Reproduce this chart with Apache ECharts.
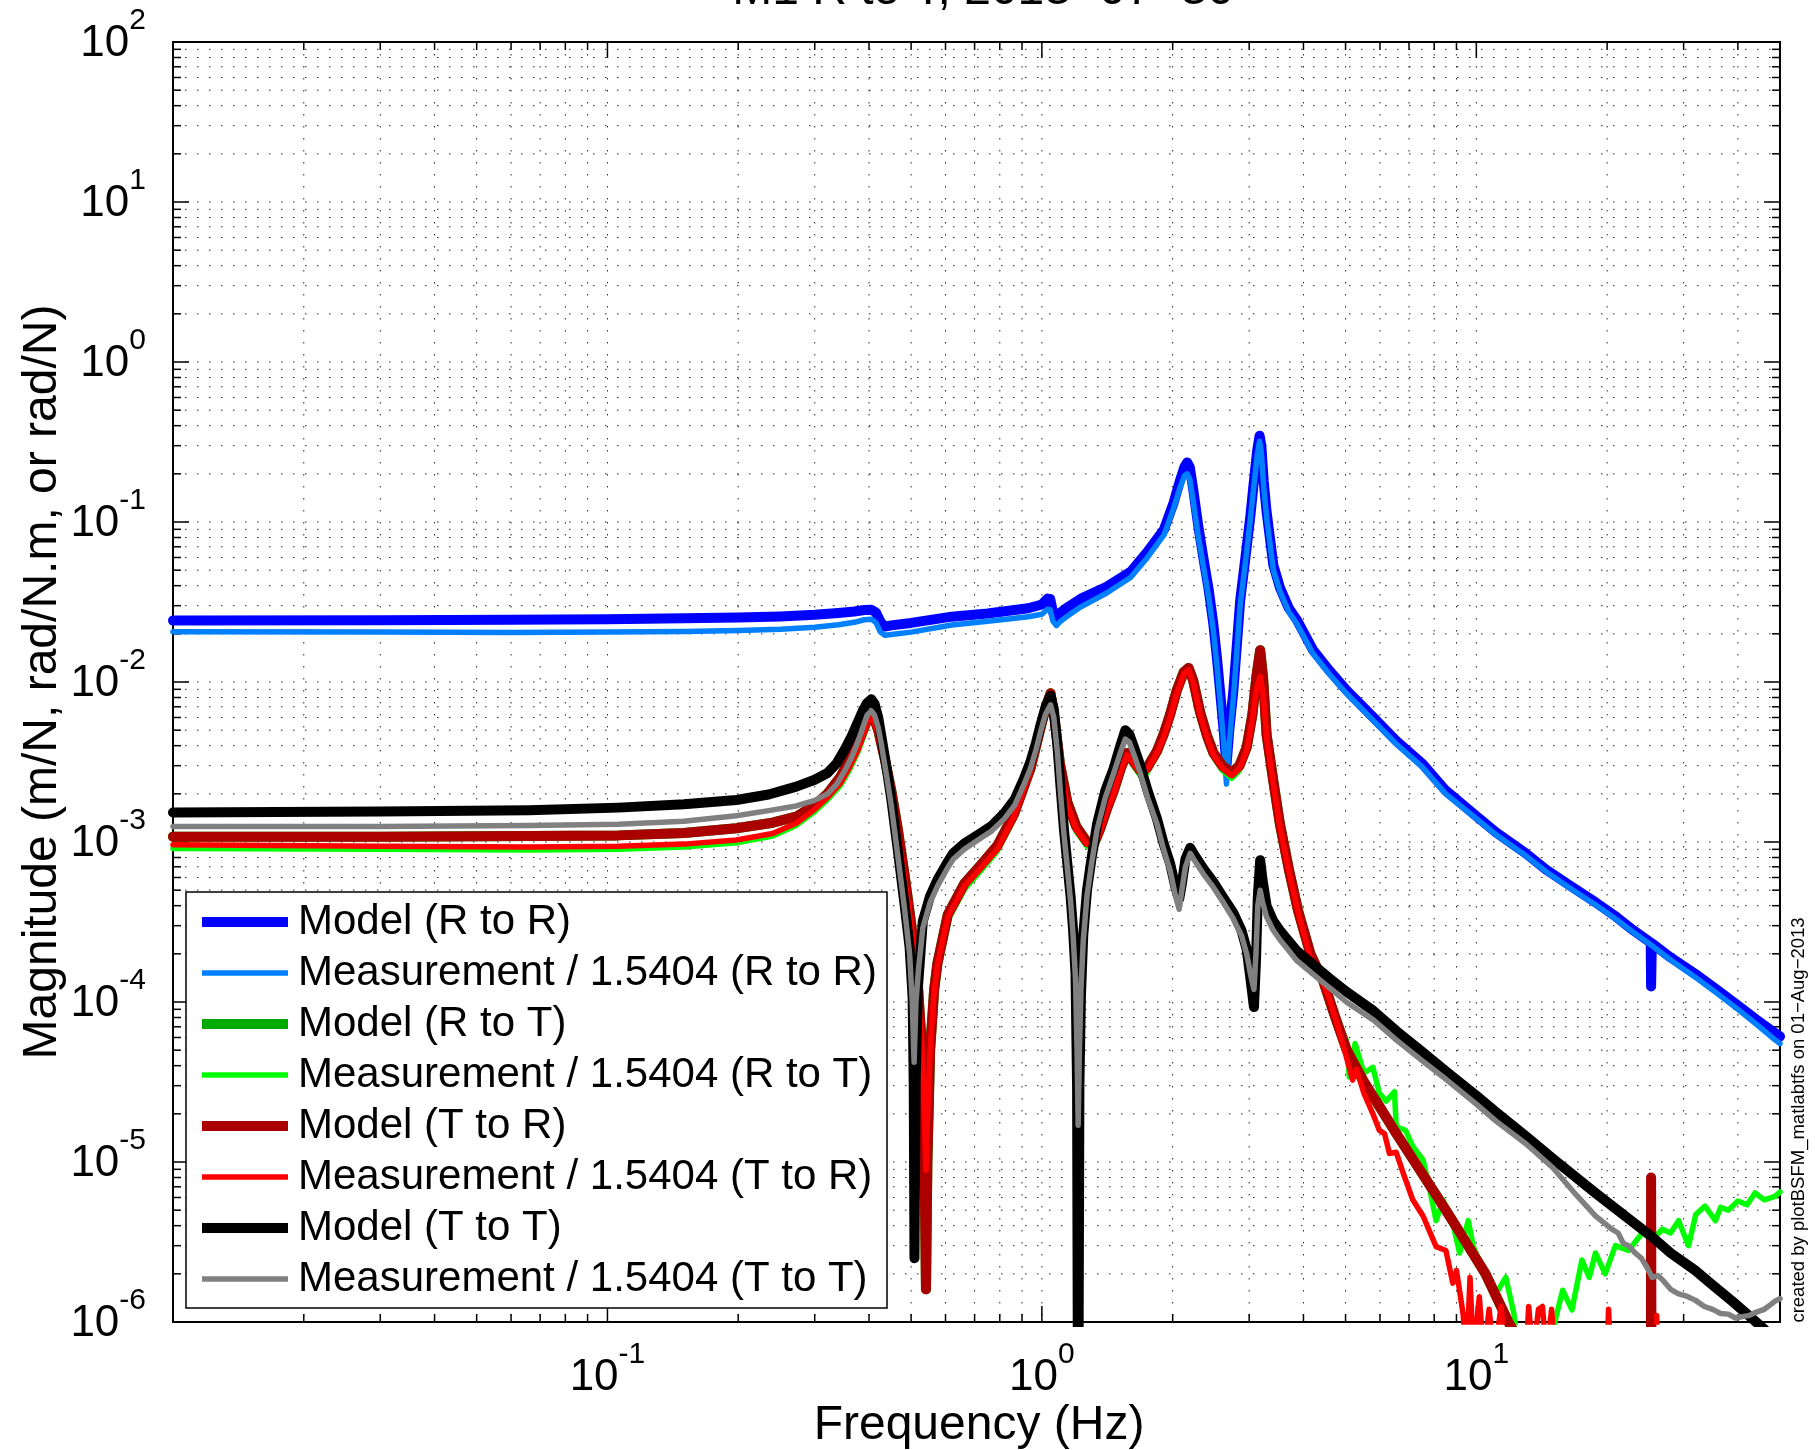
<!DOCTYPE html>
<html>
<head>
<meta charset="utf-8">
<script src="https://cdn.jsdelivr.net/npm/echarts@6/dist/echarts.min.js"></script>
<style>
html,body{margin:0;padding:0;background:#fff;}
#chart{width:1815px;height:1450px;}
</style>
</head>
<body>
<div id="chart"></div>
<script>
// ---------------- data (frequency Hz, magnitude) ----------------
const modelRR = [[0.01,0.0242],[0.03,0.0243],[0.06,0.0245],[0.1,0.0247],[0.15,0.025],[0.2,0.0253],[0.25,0.0257],[0.3,0.0263],[0.34,0.027],[0.37,0.0276],[0.39,0.0282],[0.405,0.0283],[0.415,0.0272],[0.425,0.0238],[0.435,0.0222],[0.45,0.0226],[0.5,0.0234],[0.62,0.0256],[0.75,0.0268],[0.93,0.0289],[1.0,0.0305],[1.03,0.0332],[1.045,0.033],[1.06,0.0275],[1.075,0.0248],[1.1,0.027],[1.15,0.0295],[1.23,0.0332],[1.41,0.0394],[1.6,0.0488],[1.75,0.0651],[1.91,0.0898],[2.01,0.132],[2.08,0.182],[2.13,0.222],[2.16,0.2355],[2.19,0.22],[2.23,0.16],[2.29,0.095],[2.35,0.0611],[2.42,0.038],[2.48,0.0233],[2.53,0.014],[2.57,0.0089],[2.62,0.005],[2.66,0.003],[2.7,0.005],[2.76,0.0089],[2.81,0.017],[2.86,0.0321],[2.96,0.0695],[3.02,0.11],[3.07,0.171],[3.13,0.28],[3.17,0.346],[3.2,0.3],[3.24,0.18],[3.29,0.116],[3.41,0.0537],[3.53,0.039],[3.7,0.029],[3.86,0.0245],[4.21,0.0158],[4.6,0.0117],[5.02,0.0089],[5.6,0.0066],[6.54,0.0043],[7.5,0.0031],[8.5,0.0021],[10,0.00145],[11.1,0.00115],[13,0.00085],[14.5,0.00067],[16.5,0.00053],[18.8,0.00042],[21,0.00034],[23,0.00028],[25.2,0.000235],[25.25,0.000125],[25.3,0.000125],[25.35,0.000233],[28,0.00019],[31.9,0.00015],[36,0.000118],[40,0.000095],[44,0.000078],[48.7,0.000064],[50,0.000061]];

const measRR = [[0.01,0.0206],[0.03,0.0205],[0.06,0.0204],[0.1,0.0205],[0.15,0.0207],[0.2,0.021],[0.25,0.0214],[0.3,0.022],[0.34,0.0228],[0.37,0.0236],[0.39,0.0245],[0.405,0.0247],[0.415,0.0235],[0.425,0.0205],[0.435,0.0196],[0.45,0.0198],[0.5,0.0205],[0.62,0.0227],[0.75,0.024],[0.93,0.0256],[1.0,0.0265],[1.03,0.0285],[1.045,0.0283],[1.06,0.024],[1.08,0.0225],[1.1,0.0238],[1.15,0.026],[1.23,0.0295],[1.41,0.036],[1.6,0.045],[1.75,0.06],[1.91,0.083],[2.01,0.122],[2.08,0.165],[2.13,0.195],[2.16,0.2],[2.19,0.185],[2.23,0.135],[2.29,0.082],[2.35,0.054],[2.42,0.034],[2.48,0.021],[2.53,0.0125],[2.57,0.0078],[2.62,0.0042],[2.66,0.0023],[2.7,0.0042],[2.76,0.008],[2.81,0.0155],[2.86,0.03],[2.96,0.065],[3.02,0.105],[3.07,0.16],[3.13,0.26],[3.17,0.32],[3.2,0.27],[3.24,0.165],[3.29,0.107],[3.41,0.05],[3.53,0.037],[3.7,0.0275],[3.86,0.0232],[4.21,0.015],[4.6,0.0111],[5.02,0.0085],[5.6,0.0063],[6.54,0.0041],[7.5,0.00295],[8.5,0.002],[10,0.0014],[11.1,0.00111],[13,0.00082],[14.5,0.00065],[16.5,0.00051],[18.8,0.000405],[21,0.000328],[23,0.000272],[25.2,0.000228],[28,0.000183],[31.9,0.000143],[36,0.000112],[40,0.00009],[44,0.000073],[48.7,0.000058],[50,0.000055]];

const modelRT = [[0.01,0.00108],[0.03,0.00108],[0.066,0.00109],[0.106,0.0011],[0.15,0.00114],[0.198,0.00122],[0.24,0.00132],[0.272,0.00144],[0.3,0.0017],[0.321,0.002],[0.344,0.00256],[0.36,0.0032],[0.378,0.0042],[0.39,0.0052],[0.396,0.0058],[0.402,0.0063],[0.41,0.006],[0.42,0.005],[0.435,0.0033],[0.45,0.0021],[0.466,0.0012],[0.483,0.00062],[0.5,0.00031],[0.518,0.00013],[0.53,0.00005],[0.537,0.00001],[0.541,0.0000016],[0.545,0.00001],[0.553,0.00005],[0.565,0.00012],[0.575,0.000175],[0.607,0.00035],[0.663,0.00055],[0.724,0.00072],[0.79,0.00095],[0.863,0.0015],[0.942,0.0029],[0.993,0.0052],[1.025,0.0072],[1.047,0.0085],[1.07,0.0058],[1.1,0.0031],[1.144,0.00178],[1.2,0.00125],[1.27,0.001],[1.317,0.00097],[1.36,0.0012],[1.41,0.0016],[1.464,0.0021],[1.52,0.0029],[1.57,0.0036],[1.61,0.0033],[1.684,0.0028],[1.745,0.0029],[1.84,0.0037],[1.906,0.0047],[1.974,0.0063],[2.045,0.0089],[2.12,0.0115],[2.176,0.01225],[2.23,0.0102],[2.312,0.0065],[2.4,0.0046],[2.483,0.0036],[2.6,0.003],[2.735,0.0027],[2.85,0.003],[2.96,0.0039],[3.05,0.0062],[3.12,0.011],[3.18,0.0158],[3.23,0.0105],[3.29,0.0047],[3.41,0.0024],[3.53,0.0013],[3.7,0.00068],[3.89,0.00037],[4.15,0.0002],[4.44,0.000136],[4.7,0.000085],[5.02,0.000051],[5.5,0.000032],[6,0.000022],[6.54,0.0000151],[7.5,0.0000085],[8.51,0.000005],[9.5,0.0000031],[10.5,0.000002],[11.85,0.000001],[13.5,0.00000055],[16,0.00000025],[20,0.0000001],[30,0.00000003],[50,0.00000001]];

const measRT = [[0.01,0.00091],[0.03,0.0009],[0.066,0.00089],[0.106,0.0009],[0.15,0.00093],[0.198,0.00099],[0.24,0.00109],[0.272,0.00127],[0.3,0.00155],[0.321,0.00184],[0.344,0.00226],[0.36,0.0028],[0.378,0.0037],[0.39,0.0047],[0.396,0.0053],[0.402,0.0058],[0.41,0.0055],[0.42,0.0046],[0.435,0.003],[0.45,0.0019],[0.466,0.0011],[0.483,0.00058],[0.5,0.00029],[0.518,0.00012],[0.53,0.00005],[0.538,0.000018],[0.542,0.000012],[0.547,0.000018],[0.555,0.00005],[0.567,0.00011],[0.578,0.000165],[0.61,0.00033],[0.665,0.00051],[0.726,0.00067],[0.79,0.00088],[0.863,0.0014],[0.942,0.0027],[0.993,0.0049],[1.025,0.0066],[1.047,0.0076],[1.07,0.0054],[1.1,0.0029],[1.144,0.00165],[1.2,0.00116],[1.27,0.00094],[1.317,0.0009],[1.36,0.00111],[1.41,0.0015],[1.464,0.00195],[1.52,0.0027],[1.57,0.0034],[1.61,0.0031],[1.684,0.0026],[1.745,0.0027],[1.84,0.0035],[1.906,0.0044],[1.974,0.0059],[2.045,0.0083],[2.12,0.011],[2.176,0.0117],[2.23,0.0097],[2.312,0.0062],[2.4,0.0044],[2.483,0.0034],[2.6,0.0028],[2.735,0.0025],[2.85,0.0028],[2.96,0.0036],[3.05,0.0057],[3.12,0.009],[3.18,0.0106],[3.23,0.0083],[3.29,0.0044],[3.41,0.0022],[3.53,0.0012],[3.7,0.00064],[3.89,0.00035],[4.15,0.000185],[4.44,0.000128],[4.8,0.000075],[5.02,0.000058],[5.1,0.000034],[5.26,0.000055],[5.51,0.000036],[5.78,0.000039],[5.98,0.000027],[6.2,0.000024],[6.48,0.0000275],[6.54,0.0000166],[6.87,0.0000158],[7.14,0.0000125],[7.54,0.0000103],[7.79,0.000007],[8.08,0.0000043],[8.38,0.0000058],[8.83,0.0000041],[9.15,0.0000027],[9.58,0.0000043],[9.84,0.00000296],[10.3,0.0000022],[11.09,0.0000015],[11.69,0.0000019],[12.2,0.00000113],[12.7,0.0000005],[13.6,0.0000007],[14.5,0.0000005],[15.2,0.00000103],[15.8,0.00000158],[16.6,0.00000119],[17.5,0.00000244],[18.2,0.0000019],[18.8,0.0000027],[19.8,0.000002],[20.9,0.000003],[22.4,0.0000028],[24.1,0.0000036],[25.5,0.0000033],[26.8,0.0000038],[28,0.0000036],[29.2,0.0000043],[30.8,0.000003],[32,0.0000047],[33.6,0.0000053],[35.5,0.0000043],[36.5,0.0000052],[38,0.000005],[40,0.0000057],[42,0.0000054],[43.8,0.0000064],[46,0.0000058],[48.7,0.0000061],[50,0.0000065]];

const modelTR = [[0.01,0.00108],[0.03,0.00108],[0.066,0.00109],[0.106,0.0011],[0.15,0.00114],[0.198,0.00122],[0.24,0.00132],[0.272,0.00144],[0.3,0.0017],[0.321,0.002],[0.344,0.00256],[0.36,0.0032],[0.378,0.0042],[0.39,0.0052],[0.396,0.0058],[0.402,0.0063],[0.41,0.006],[0.42,0.005],[0.435,0.0033],[0.45,0.0021],[0.466,0.0012],[0.483,0.00062],[0.5,0.00031],[0.518,0.00013],[0.53,0.00005],[0.537,0.00001],[0.541,0.0000016],[0.545,0.00001],[0.553,0.00005],[0.565,0.00012],[0.575,0.000175],[0.607,0.00035],[0.663,0.00055],[0.724,0.00072],[0.79,0.00095],[0.863,0.0015],[0.942,0.0029],[0.993,0.0052],[1.025,0.0072],[1.047,0.0085],[1.07,0.0058],[1.1,0.0031],[1.144,0.00178],[1.2,0.00125],[1.27,0.001],[1.317,0.00097],[1.36,0.0012],[1.41,0.0016],[1.464,0.0021],[1.52,0.0029],[1.57,0.0036],[1.61,0.0033],[1.684,0.0028],[1.745,0.0029],[1.84,0.0037],[1.906,0.0047],[1.974,0.0063],[2.045,0.0089],[2.12,0.0115],[2.176,0.01225],[2.23,0.0102],[2.312,0.0065],[2.4,0.0046],[2.483,0.0036],[2.6,0.003],[2.735,0.0027],[2.85,0.003],[2.96,0.0039],[3.05,0.0062],[3.12,0.011],[3.18,0.0158],[3.23,0.0105],[3.29,0.0047],[3.41,0.0024],[3.53,0.0013],[3.7,0.00068],[3.89,0.00037],[4.15,0.0002],[4.44,0.000136],[4.7,0.000085],[5.02,0.000051],[5.5,0.000032],[6,0.000022],[6.54,0.0000151],[7.5,0.0000085],[8.51,0.000005],[9.5,0.0000031],[10.5,0.000002],[11.85,0.000001],[13.5,0.00000055],[16,0.00000025],[20,0.0000001],[25.2,0.00000005],[25.25,0.000008],[25.3,0.000008],[25.35,0.00000005],[30,0.00000003],[50,0.00000001]];

const measTR = [[0.01,0.00096],[0.03,0.00094],[0.066,0.00093],[0.106,0.00094],[0.15,0.00097],[0.198,0.00103],[0.24,0.00113],[0.272,0.00131],[0.3,0.0016],[0.321,0.0019],[0.344,0.00233],[0.36,0.0029],[0.378,0.0038],[0.39,0.0049],[0.396,0.0055],[0.402,0.006],[0.41,0.0057],[0.42,0.0047],[0.435,0.0031],[0.45,0.002],[0.466,0.00115],[0.483,0.0006],[0.5,0.0003],[0.518,0.000125],[0.53,0.00005],[0.537,0.000018],[0.541,0.0000089],[0.545,0.000018],[0.553,0.00005],[0.565,0.000115],[0.575,0.00017],[0.607,0.00034],[0.663,0.00053],[0.724,0.00069],[0.79,0.0009],[0.863,0.00145],[0.942,0.0028],[0.993,0.005],[1.025,0.0068],[1.047,0.0078],[1.07,0.0056],[1.1,0.003],[1.144,0.0017],[1.2,0.0012],[1.27,0.00097],[1.317,0.00094],[1.36,0.00115],[1.41,0.00155],[1.464,0.002],[1.52,0.0028],[1.57,0.0035],[1.61,0.0032],[1.684,0.0027],[1.745,0.0028],[1.84,0.0036],[1.906,0.0045],[1.974,0.006],[2.045,0.0085],[2.12,0.0112],[2.176,0.0119],[2.23,0.0099],[2.312,0.0063],[2.4,0.0045],[2.483,0.0035],[2.6,0.0029],[2.735,0.0026],[2.85,0.0029],[2.96,0.0037],[3.05,0.0058],[3.12,0.0092],[3.18,0.0108],[3.23,0.0085],[3.29,0.0045],[3.41,0.0023],[3.53,0.00125],[3.7,0.00066],[3.89,0.00036],[4.15,0.00019],[4.44,0.00013],[4.6,0.000103],[4.8,0.00007],[5.02,0.0000455],[5.19,0.0000325],[5.3,0.000038],[5.51,0.0000269],[5.78,0.00002],[5.98,0.0000158],[6.15,0.000015],[6.31,0.0000113],[6.54,0.0000115],[6.79,0.0000085],[7.14,0.0000058],[7.54,0.0000046],[8.08,0.00000296],[8.51,0.0000028],[8.83,0.00000175],[9.0,0.0000021],[9.32,0.00000113],[9.5,0.0000006],[9.67,0.0000019],[9.85,0.0000006],[10.16,0.00000144],[10.4,0.0000006],[10.7,0.0000012],[11.0,0.0000006],[11.4,0.00000125],[11.7,0.0000006],[13.0,0.0000006],[13.2,0.00000125],[13.5,0.0000006],[13.9,0.0000012],[14.2,0.00000125],[14.5,0.0000006],[14.9,0.0000012],[15.2,0.0000006],[20.0,0.0000006],[20.15,0.0000012],[20.4,0.0000006],[25.9,0.0000006],[26.0,0.0000011],[26.2,0.0000006],[28,0.0000006],[50,0.0000005]];

const modelTT = [[0.01,0.00153],[0.03,0.00155],[0.066,0.00158],[0.106,0.00164],[0.15,0.00172],[0.198,0.00183],[0.235,0.00198],[0.272,0.00222],[0.3,0.00245],[0.321,0.0027],[0.337,0.0031],[0.352,0.0038],[0.365,0.0046],[0.378,0.0057],[0.388,0.0067],[0.396,0.0074],[0.405,0.0078],[0.412,0.0073],[0.42,0.006],[0.427,0.0046],[0.44,0.0028],[0.45,0.00186],[0.466,0.00089],[0.483,0.000406],[0.496,0.00022],[0.504,0.000107],[0.507,0.00003],[0.509,0.0000025],[0.512,0.00003],[0.518,0.00012],[0.532,0.00032],[0.553,0.00046],[0.575,0.00058],[0.607,0.00075],[0.625,0.00085],[0.663,0.00098],[0.724,0.00114],[0.766,0.00126],[0.82,0.00152],[0.866,0.00185],[0.91,0.0025],[0.942,0.0032],[0.97,0.0042],[0.993,0.0054],[1.02,0.007],[1.047,0.0082],[1.065,0.0068],[1.085,0.0041],[1.104,0.0022],[1.124,0.0012],[1.145,0.00072],[1.164,0.00046],[1.18,0.00028],[1.195,0.00015],[1.205,0.00003],[1.212,0.0000001],[1.22,0.00003],[1.23,0.00011],[1.245,0.00026],[1.27,0.0005],[1.3,0.00078],[1.34,0.0013],[1.4,0.0021],[1.464,0.0029],[1.52,0.0041],[1.556,0.005],[1.59,0.0047],[1.63,0.0039],[1.684,0.003],[1.75,0.0021],[1.84,0.0014],[1.906,0.00098],[1.974,0.00073],[2.03,0.00052],[2.07,0.00044],[2.1,0.00055],[2.14,0.00078],[2.194,0.00092],[2.25,0.00082],[2.354,0.00068],[2.483,0.00056],[2.6,0.00046],[2.76,0.00036],[2.88,0.00028],[2.96,0.000214],[3.02,0.00014],[3.077,0.000093],[3.11,0.00018],[3.14,0.00045],[3.18,0.00077],[3.22,0.00058],[3.29,0.0004],[3.41,0.00032],[3.53,0.00028],[3.7,0.00024],[3.855,0.00021],[4.2,0.000172],[4.6,0.00014],[5.02,0.000116],[5.8,0.000088],[6.54,0.000066],[7.5,0.000049],[8.5,0.000037],[10,0.000026],[11.1,0.0000205],[13,0.0000145],[15,0.0000105],[18.8,0.0000064],[22,0.0000046],[25.4,0.0000034],[28,0.0000027],[31.9,0.0000021],[35,0.0000017],[38.8,0.00000135],[42,0.00000112],[46,0.0000009],[50,0.00000073]];

const measTT = [[0.01,0.00125],[0.03,0.00125],[0.066,0.00127],[0.106,0.00129],[0.15,0.00135],[0.198,0.00146],[0.235,0.00157],[0.272,0.00168],[0.3,0.00182],[0.321,0.002],[0.337,0.0023],[0.352,0.0028],[0.365,0.0034],[0.378,0.0043],[0.388,0.0053],[0.396,0.0062],[0.405,0.0066],[0.412,0.0062],[0.42,0.0052],[0.427,0.0041],[0.44,0.0025],[0.45,0.0017],[0.466,0.00082],[0.483,0.00038],[0.496,0.0002],[0.503,0.0001],[0.508,0.000042],[0.513,0.0001],[0.52,0.00016],[0.532,0.00029],[0.553,0.00042],[0.575,0.00053],[0.607,0.00069],[0.625,0.00078],[0.663,0.0009],[0.724,0.00106],[0.766,0.00117],[0.82,0.0014],[0.866,0.0017],[0.91,0.0023],[0.942,0.0029],[0.97,0.0038],[0.993,0.0049],[1.02,0.0063],[1.047,0.0072],[1.065,0.006],[1.085,0.0037],[1.104,0.002],[1.124,0.00112],[1.145,0.00068],[1.164,0.00043],[1.18,0.00026],[1.195,0.00014],[1.205,0.00005],[1.212,0.000017],[1.22,0.00005],[1.23,0.00012],[1.245,0.00024],[1.27,0.00046],[1.3,0.00072],[1.34,0.0012],[1.4,0.0019],[1.464,0.0027],[1.52,0.0037],[1.556,0.0044],[1.59,0.0042],[1.63,0.0035],[1.684,0.0027],[1.75,0.0019],[1.84,0.0013],[1.906,0.0009],[1.974,0.00066],[2.03,0.00046],[2.07,0.00038],[2.1,0.0005],[2.14,0.0007],[2.194,0.00085],[2.25,0.00076],[2.354,0.00063],[2.483,0.00052],[2.6,0.00043],[2.76,0.00033],[2.88,0.00026],[2.96,0.0002],[3.02,0.00015],[3.077,0.00012],[3.11,0.0002],[3.14,0.0004],[3.18,0.0005],[3.22,0.00042],[3.29,0.00034],[3.41,0.00028],[3.53,0.000245],[3.7,0.00021],[3.855,0.000182],[4.2,0.00015],[4.6,0.000122],[5.02,0.0001],[5.8,0.000077],[6.54,0.000058],[7.5,0.000043],[8.5,0.000033],[10,0.000023],[11.1,0.000018],[13,0.000013],[15,0.0000092],[17,0.0000062],[18.8,0.0000046],[20.5,0.0000038],[21.2,0.0000036],[21.8,0.0000031],[22.4,0.000003],[23.2,0.0000027],[24,0.0000025],[24.7,0.0000022],[25.4,0.0000019],[26.2,0.00000195],[27,0.0000018],[28,0.0000016],[29.2,0.0000015],[30.5,0.00000145],[31.9,0.00000137],[33.5,0.00000125],[35,0.0000012],[36.5,0.00000113],[38,0.00000112],[39.5,0.00000106],[41,0.00000108],[42.5,0.0000011],[44,0.00000115],[46,0.0000012],[47.5,0.00000128],[48.7,0.00000135],[50,0.0000014]];

// axis / grid tick values
const xMajorTicks = [0.1, 1, 10];
const xMinorTicks = [0.02,0.03,0.04,0.05,0.06,0.07,0.08,0.09,0.2,0.3,0.4,0.5,0.6,0.7,0.8,0.9,2,3,4,5,6,7,8,9,20,30,40];
const xLabelExps = [-1, 0, 1];
const yMajorTicks = [1e-5,1e-4,1e-3,1e-2,1e-1,1,10];
const yDecades = [1e-6,1e-5,1e-4,1e-3,1e-2,1e-1,1,10];
const yMinorMult = [2,3,4,5,6,7,8,9];

const seriesNames = ['Model (R to R)','Measurement / 1.5404 (R to R)','Model (R to T)','Measurement / 1.5404 (R to T)','Model (T to R)','Measurement / 1.5404 (T to R)','Model (T to T)','Measurement / 1.5404 (T to T)'];
const seriesColors = ['#0000ff','#0080ff','#00aa00','#00ff00','#aa0000','#ff0000','#000000','#808080'];
const titleText = 'M1 R to T, 2013\u221207\u221230';
const xTitle = 'Frequency (Hz)';
const yTitle = 'Magnitude (m/N, rad/N.m, or rad/N)';
const stampText = 'created by plotBSFM_matlabtfs on 01\u2212Aug\u22122013';

// ---------------- chart ----------------
const FONT = '"Liberation Sans", Arial, Helvetica, sans-serif';
const XMIN = 0.01, XMAX = 50, YMIN = 1e-6, YMAX = 100;

const gridItems = [];
xMajorTicks.forEach(v => gridItems.push([v, 1, 0, 1]));
xMinorTicks.forEach(v => gridItems.push([v, 1, 0, 0]));
yMajorTicks.forEach(v => gridItems.push([1, v, 1, 1]));
yDecades.forEach(d => yMinorMult.forEach(m => gridItems.push([1, d * m, 1, 0])));

function expOf(v) {
  const l = Math.log10(v);
  const e = Math.round(l);
  return Math.abs(l - e) > 1e-6 ? null : e;
}
function yLabel(v) {
  const e = expOf(v);
  return e === null ? '' : '{b|10}{e|' + e + '}';
}
function xLabel(v) {
  const e = expOf(v);
  return (e === null || xLabelExps.indexOf(e) < 0) ? '' : '{b|10}{e|' + e + '}';
}
const rich = {
  b: {fontSize: 44, fontFamily: FONT, color: '#000', padding: [16, 0, 12, 0], verticalAlign: 'bottom'},
  e: {fontSize: 30, fontFamily: FONT, color: '#000', lineHeight: 30, verticalAlign: 'top'}
};

function line(i, data, width) {
  return {
    name: seriesNames[i], type: 'line', data: data, symbol: 'none', showSymbol: false,
    lineStyle: {color: seriesColors[i], width: width, cap: 'round', join: 'round'},
    itemStyle: {color: seriesColors[i]}, clip: true, animation: false, z: 3
  };
}

const ROW = 51, LEG_TOP = 896.5, LEG_LEFT = 202;
const legendText = {fontSize: 42, color: '#000', fontFamily: FONT, lineHeight: ROW, padding: [0, 0, 0, 5]};

const chart = echarts.init(document.getElementById('chart'), null, {renderer: 'canvas'});
const option = {
  animation: false,
  backgroundColor: '#fff',
  textStyle: {fontFamily: FONT},
  grid: {left: 173, top: 42, width: 1607, height: 1280, containLabel: false, outerBoundsMode: 'none',
         show: true, borderColor: '#000', borderWidth: 2, backgroundColor: '#fff'},
  xAxis: {
    type: 'log', logBase: 10, min: XMIN, max: XMAX,
    axisLine: {show: false}, axisTick: {show: false}, splitLine: {show: false},
    axisLabel: {formatter: xLabel, margin: 18, rich: rich, showMinLabel: true, showMaxLabel: true}
  },
  yAxis: {
    type: 'log', logBase: 10, min: YMIN, max: YMAX,
    axisLine: {show: false}, axisTick: {show: false}, splitLine: {show: false},
    axisLabel: {formatter: yLabel, margin: 27, rich: rich},
    name: yTitle, nameLocation: 'middle', nameGap: 106, nameRotate: 90, nameMoveOverlap: false,
    nameTextStyle: {fontSize: 48, color: '#000', fontFamily: FONT}
  },
  legend: [
    {
      data: [0, 2, 4, 6].map(i => ({name: seriesNames[i], icon: 'rect'})),
      orient: 'vertical', left: LEG_LEFT, top: LEG_TOP, padding: 0, itemGap: ROW,
      itemWidth: 86, itemHeight: 10, itemStyle: {borderWidth: 0},
      textStyle: legendText, selectedMode: false, z: 20
    },
    {
      data: [1, 3, 5, 7].map(i => ({name: seriesNames[i], icon: 'rect'})),
      orient: 'vertical', left: LEG_LEFT, top: LEG_TOP + ROW, padding: 0, itemGap: ROW,
      itemWidth: 86, itemHeight: 5.5, itemStyle: {borderWidth: 0},
      textStyle: legendText, selectedMode: false, z: 20
    }
  ],
  graphic: [
    {type: 'rect', z: 10, shape: {x: 186, y: 892, width: 701, height: 416}, style: {fill: '#fff', stroke: '#000', lineWidth: 1.5}},
    {type: 'text', x: 983, y: 15, z: 30, style: {text: titleText, fontSize: 48, fontFamily: FONT, fill: '#000', align: 'center', verticalAlign: 'bottom'}},
    {type: 'text', x: 979, y: 1426, z: 30, style: {text: xTitle, fontSize: 48, fontFamily: FONT, fill: '#000', align: 'center', verticalAlign: 'middle'}},
    {type: 'text', x: 1799, y: 1120, rotation: Math.PI / 2, z: 30, style: {text: stampText, fontSize: 18.5, fontFamily: FONT, fill: '#000', align: 'center', verticalAlign: 'middle'}}
  ],
  series: [
    {
      type: 'custom', name: '_grid', silent: true, z: 1, data: gridItems, encode: {x: 0, y: 1},
      renderItem: function (params, api) {
        const cs = params.coordSys;
        const kind = api.value(2), major = api.value(3);
        const len = major ? 16 : 8;
        const dot = {stroke: '#000', lineWidth: 1, lineDash: [1.5, 10.5], opacity: 0.85};
        const tk = {stroke: '#000', lineWidth: 1.5};
        if (kind === 0) {
          const px = api.coord([api.value(0), 1])[0];
          return {type: 'group', children: [
            {type: 'line', shape: {x1: px, y1: cs.y, x2: px, y2: cs.y + cs.height}, style: dot},
            {type: 'line', shape: {x1: px, y1: cs.y + cs.height, x2: px, y2: cs.y + cs.height - len}, style: tk},
            {type: 'line', shape: {x1: px, y1: cs.y, x2: px, y2: cs.y + len}, style: tk}
          ]};
        } else {
          const py = api.coord([1, api.value(1)])[1];
          return {type: 'group', children: [
            {type: 'line', shape: {x1: cs.x, y1: py, x2: cs.x + cs.width, y2: py}, style: dot},
            {type: 'line', shape: {x1: cs.x, y1: py, x2: cs.x + len, y2: py}, style: tk},
            {type: 'line', shape: {x1: cs.x + cs.width, y1: py, x2: cs.x + cs.width - len, y2: py}, style: tk}
          ]};
        }
      }
    },
    line(0, modelRR, 10),
    line(1, measRR, 5.5),
    line(2, modelTR === null ? [] : modelRT, 10),
    line(3, measRT, 5.5),
    line(4, modelTR, 10),
    line(5, measTR, 5.5),
    line(6, modelTT, 10),
    line(7, measTT, 5.5)
  ]
};
chart.setOption(option);
</script>
</body>
</html>
